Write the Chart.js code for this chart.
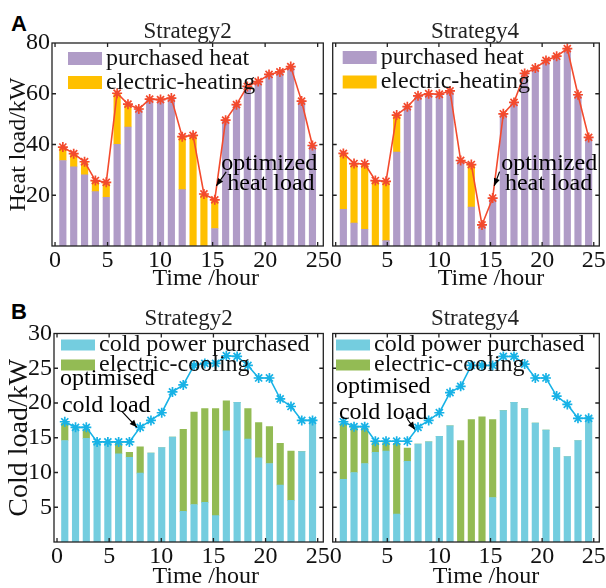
<!DOCTYPE html>
<html>
<head>
<meta charset="utf-8">
<script src="https://cdn.jsdelivr.net/npm/chart.js@4.4.1/dist/chart.umd.min.js"></script>
<style>
body { margin: 0; background: #fff; width: 606px; height: 588px; position: relative; overflow: hidden; }
.panel { position: absolute; }
.tag { position: absolute; font: bold 22px "Liberation Sans", Arial, sans-serif; line-height: 22px; color: #000; }
</style>
</head>
<body>
<div class="tag" style="left:11px;top:13px">A</div>
<div class="tag" style="left:11px;top:301px">B</div>
<div class="panel" style="left:0;top:0;width:330px;height:290px"><canvas id="heat2"></canvas></div>
<div class="panel" style="left:326px;top:0;width:280px;height:290px"><canvas id="heat4"></canvas></div>
<div class="panel" style="left:0;top:290px;width:330px;height:298px"><canvas id="cold2"></canvas></div>
<div class="panel" style="left:326px;top:290px;width:280px;height:298px"><canvas id="cold4"></canvas></div>
<script>
// hours of the day, bars sit on 1..24
const hours = [1, 2, 3, 4, 5, 6, 7, 8, 9, 10, 11, 12, 13, 14, 15, 16, 17, 18, 19, 20, 21, 22, 23, 24];
const timeTicks = [0, 5, 10, 15, 20, 25];
const heatTicks = [20, 40, 60, 80];
const coldTicks = [5, 10, 15, 20, 25, 30];

// A - heat, strategy 2
const heatS2Load = [39.0, 36.4, 33.2, 25.8, 25.1, 60.2, 55.9, 54.0, 57.9, 57.7, 58.3, 43.1, 43.6, 20.5, 18.2, 49.6, 55.7, 62.9, 64.8, 67.6, 68.6, 70.7, 57.1, 39.6];
const heatS2Purchased = [33.7, 31.2, 28.0, 21.4, 19.2, 40.1, 46.9, 54.0, 57.9, 57.7, 58.3, 22.2, 0, 0, 6.9, 49.6, 55.7, 62.9, 64.8, 67.6, 68.6, 70.7, 57.1, 39.6];
const heatS2Electric = [5.3, 5.2, 5.2, 4.4, 5.9, 20.1, 9.0, 0, 0, 0, 0, 20.9, 43.6, 20.5, 11.3, 0, 0, 0, 0, 0, 0, 0, 0, 0];

// A - heat, strategy 4
const heatS4Load = [36.5, 32.5, 32.4, 25.8, 25.5, 51.6, 54.9, 59.2, 60.0, 59.8, 61.1, 33.7, 32.1, 8.3, 18.9, 52.1, 56.6, 68.0, 70.1, 73.1, 74.8, 77.8, 59.6, 42.8];
const heatS4Purchased = [14.5, 9.0, 6.6, 0, 2.1, 37.0, 54.9, 59.2, 60.0, 59.8, 61.1, 33.7, 15.3, 8.3, 18.9, 52.1, 56.6, 68.0, 70.1, 73.1, 74.8, 77.8, 59.6, 42.8];
const heatS4Electric = [22.0, 23.5, 25.8, 25.8, 23.4, 14.6, 0, 0, 0, 0, 0, 0, 16.8, 0, 0, 0, 0, 0, 0, 0, 0, 0, 0, 0];

// B - cold, strategy 2
const coldS2Load = [17.3, 16.5, 16.5, 14.4, 14.4, 14.4, 14.4, 16.5, 17.5, 18.6, 21.6, 22.6, 25.4, 25.7, 25.7, 26.8, 26.7, 25.4, 23.6, 23.6, 20.6, 19.5, 17.5, 17.5];
const coldS2Purchased = [14.6, 16.3, 14.9, 14.2, 14.2, 12.7, 12.2, 9.9, 12.8, 13.6, 15.1, 4.4, 5.4, 5.7, 3.8, 16.0, 20.1, 14.8, 12.1, 11.3, 8.2, 6.0, 13.0, 17.8];
const coldS2Electric = [2.5, 0, 1.3, 0, 0, 1.5, 0.7, 3.8, 0, 0, 0, 11.8, 13.3, 13.5, 15.4, 4.3, 0, 4.4, 5.1, 5.3, 6.0, 7.1, 0, 0];

// B - cold, strategy 4
const coldS4Load = [17.3, 16.6, 16.6, 14.5, 14.5, 14.5, 14.5, 16.5, 17.5, 18.6, 21.5, 22.4, 25.4, 25.4, 25.4, 26.7, 26.7, 25.6, 23.6, 23.6, 21.0, 19.8, 17.8, 17.8];
const coldS4Purchased = [9.0, 10.0, 11.3, 12.9, 13.1, 4.0, 11.6, 14.1, 14.4, 15.2, 16.7, 0, 0, 0, 6.4, 18.9, 20.1, 19.2, 17.1, 16.1, 13.6, 12.3, 14.6, 18.1];
const coldS4Electric = [8.0, 6.5, 5.1, 1.4, 1.2, 10.2, 1.9, 0, 0, 0, 0, 14.6, 17.6, 18.0, 11.2, 0, 0, 0, 0, 0, 0, 0, 0, 0];

const SERIF = "'Liberation Serif', 'Times New Roman', serif";
const pts = arr => hours.map((h, i) => ({ x: h, y: arr[i] }));
// the printed time axis is a little narrower than the bar positions
const timeAt = v => 0.28 + 0.968 * v;

// box round the plot with small inward ticks
const frame = {
  id: 'frame',
  afterDatasetsDraw(chart) {
    const { ctx, chartArea: a, scales } = chart;
    ctx.save();
    ctx.strokeStyle = '#222';
    ctx.lineWidth = 1.3;
    ctx.strokeRect(a.left, a.top, a.right - a.left, a.bottom - a.top);
    ctx.beginPath();
    scales.x.ticks.forEach(t => {
      const x = scales.x.getPixelForValue(t.value);
      if (x <= a.left + 1 || x >= a.right - 1) return;
      ctx.moveTo(x, a.bottom); ctx.lineTo(x, a.bottom - 4);
      ctx.moveTo(x, a.top); ctx.lineTo(x, a.top + 4);
    });
    scales.y.ticks.forEach(t => {
      const y = scales.y.getPixelForValue(t.value);
      if (y <= a.top + 1 || y >= a.bottom - 1) return;
      ctx.moveTo(a.left, y); ctx.lineTo(a.left + 4, y);
      ctx.moveTo(a.right, y); ctx.lineTo(a.right - 4, y);
    });
    ctx.stroke();
    ctx.restore();
  }
};

// "Time /hour" sits right of the plot centre in the original
function timeName(c) {
  return {
    id: 'timeName',
    afterDraw(chart) {
      const { ctx, chartArea: a } = chart;
      ctx.save();
      ctx.font = '24px ' + SERIF;
      ctx.fillStyle = '#111';
      ctx.textAlign = 'center';
      ctx.textBaseline = 'alphabetic';
      ctx.fillText('Time /hour', (a.left + a.right) / 2 + c.xNameShift, a.bottom + c.xNameDrop);
      ctx.restore();
    }
  };
}

function keyBoxes(c) {
  return {
    id: 'keyBoxes',
    afterDatasetsDraw(chart) {
      const { ctx, chartArea: a } = chart;
      ctx.save();
      ctx.font = '24px ' + SERIF;
      ctx.textBaseline = 'middle';
      chart.data.datasets.forEach((d, i) => {
        if (d.type === 'line') return;
        const y = a.top + c.keyY + i * c.keyGap;
        ctx.fillStyle = d.backgroundColor;
        ctx.fillRect(a.left + c.keyX, y - c.boxH / 2, 34, c.boxH);
        ctx.fillStyle = '#111';
        ctx.fillText(d.label, a.left + c.keyX + 38, y);
      });
      ctx.restore();
    }
  };
}

function note(n) {
  return {
    id: 'note',
    afterDatasetsDraw(chart) {
      const { ctx, scales: { x, y } } = chart;
      ctx.save();
      ctx.font = '24px ' + SERIF;
      ctx.fillStyle = '#000';
      ctx.strokeStyle = '#000';
      ctx.lineWidth = 1.2;
      n.lines.forEach(l => ctx.fillText(l[0], x.getPixelForValue(l[1]), y.getPixelForValue(l[2])));
      const ax = x.getPixelForValue(n.from[0]), ay = y.getPixelForValue(n.from[1]);
      const bx = x.getPixelForValue(n.to[0]), by = y.getPixelForValue(n.to[1]);
      const ang = Math.atan2(by - ay, bx - ax);
      ctx.beginPath(); ctx.moveTo(ax, ay); ctx.lineTo(bx, by); ctx.stroke();
      ctx.beginPath();
      ctx.moveTo(bx, by);
      ctx.lineTo(bx - 8 * Math.cos(ang - 0.4), by - 8 * Math.sin(ang - 0.4));
      ctx.lineTo(bx - 8 * Math.cos(ang + 0.4), by - 8 * Math.sin(ang + 0.4));
      ctx.closePath(); ctx.fill();
      ctx.restore();
    }
  };
}

// nudge the title when it is not centred on the plot
function titleShift(dx) {
  return {
    id: 'titleShift',
    afterLayout(chart) {
      chart.titleBlock.left += dx;
      chart.titleBlock.right += dx;
    }
  };
}

function panel(id, c) {
  return new Chart(document.getElementById(id), {
    type: 'bar',
    data: {
      datasets: [
        { label: c.names[0], data: pts(c.bottom), backgroundColor: c.colors[0], borderWidth: 0, barThickness: 6.5, order: 1 },
        { label: c.names[1], data: pts(c.top), backgroundColor: c.colors[1], borderWidth: 0, barThickness: 6.5, order: 1 },
        { type: 'line', label: 'load', data: pts(c.load), stack: 'load', order: 0,
          borderColor: c.lineColor, borderWidth: 1.6, tension: 0, fill: false,
          pointStyle: 'star', pointRadius: 5, pointBorderColor: c.lineColor, pointBorderWidth: 1.7 }
      ]
    },
    options: {
      responsive: true,
      maintainAspectRatio: false,
      animation: false,
      events: [],
      layout: { padding: { left: 0, right: c.padR, top: 0, bottom: 0 } },
      plugins: {
        legend: { display: false },
        tooltip: { enabled: false },
        title: {
          display: true, text: c.title, color: '#222', fullSize: false,
          font: { family: SERIF, size: 23, weight: 'normal', lineHeight: 1 },
          padding: { top: c.titleTop, bottom: c.titleBottom }
        }
      },
      scales: {
        x: {
          type: 'linear', min: 0, max: 25, stacked: true, offset: false,
          grid: { display: false, drawTicks: false, offset: false }, border: { display: false },
          afterBuildTicks: s => { s.ticks = timeTicks.map(v => ({ value: timeAt(v) })); },
          ticks: { color: '#111', font: { family: SERIF, size: 24 }, padding: 0, maxRotation: 0, autoSkip: false,
                   callback: (val, i) => timeTicks[i] },
          afterFit: s => { s.height = c.xH; s.paddingLeft = 0; s.paddingRight = 0; }
        },
        y: {
          type: 'linear', min: 0, max: c.yMax, stacked: true,
          grid: { display: false, drawTicks: false }, border: { display: false },
          afterBuildTicks: s => { s.ticks = c.yTicks.map(v => ({ value: v })); },
          ticks: { display: c.showY, color: '#111', font: { family: SERIF, size: 24 }, padding: 2 },
          title: { display: c.showY, text: c.yTitle, color: '#111', font: { family: SERIF, size: c.yTitleSize, lineHeight: 1.2 }, padding: { top: c.yTitlePad, bottom: 0 } },
          afterFit: s => { s.width = c.yW; s.paddingTop = 0; s.paddingBottom = 0; }
        }
      }
    },
    plugins: [frame, timeName(c), keyBoxes(c), note(c.note), titleShift(c.shift)]
  });
}

const heatNames = ['purchased heat', 'electric-heating'];
const heatColors = ['#b09cc7', '#ffc000'];
const coldNames = ['cold power purchased', 'electric-cooling'];
const coldColors = ['#74cddf', '#93bb54'];

panel('heat2', {
  title: 'Strategy2', shift: 0, names: heatNames, colors: heatColors, lineColor: '#f34a2d',
  bottom: heatS2Purchased, top: heatS2Electric, load: heatS2Load,
  yMax: 80, yTicks: heatTicks, showY: true, yTitle: 'Heat load/kW', yTitleSize: 24, yTitlePad: 4,
  yW: 52, padR: 4, titleTop: 20, titleBottom: 0, xH: 44, xNameShift: 18, xNameDrop: 39,
  keyX: 16, keyY: 15.5, keyGap: 24, boxH: 13,
  note: { lines: [['optimized', 15.6, 30.0], ['heat load', 16.15, 22.2]], from: [16.05, 29.2], to: [15.15, 23.7] }
});

panel('heat4', {
  title: 'Strategy4', shift: 9, names: heatNames, colors: heatColors, lineColor: '#f34a2d',
  bottom: heatS4Purchased, top: heatS4Electric, load: heatS4Load,
  yMax: 80, yTicks: heatTicks, showY: false, yTitle: '', yTitleSize: 24, yTitlePad: 0,
  yW: 4, padR: 2, titleTop: 20, titleBottom: 0, xH: 44, xNameShift: 25, xNameDrop: 39,
  keyX: 10, keyY: 14.5, keyGap: 24.5, boxH: 13,
  note: { lines: [['optimized', 15.8, 30.0], ['heat load', 16.15, 22.2]], from: [15.65, 29.3], to: [15.15, 23.7] }
});

panel('cold2', {
  title: 'Strategy2', shift: 0, names: coldNames, colors: coldColors, lineColor: '#17b2e6',
  bottom: coldS2Purchased, top: coldS2Electric, load: coldS2Load,
  yMax: 30, yTicks: coldTicks, showY: true, yTitle: 'Cold load/kW', yTitleSize: 28, yTitlePad: 3,
  yW: 54, padR: 6, titleTop: 17, titleBottom: 3.5, xH: 46, xNameShift: 17, xNameDrop: 41,
  keyX: 7, keyY: 11.5, keyGap: 20, boxH: 11,
  note: { lines: [['optimised', 0.56, 22.6], ['cold load', 0.74, 18.7]], from: [6.3, 18.8], to: [7.7, 16.5] }
});

panel('cold4', {
  title: 'Strategy4', shift: 9, names: coldNames, colors: coldColors, lineColor: '#17b2e6',
  bottom: coldS4Purchased, top: coldS4Electric, load: coldS4Load,
  yMax: 30, yTicks: coldTicks, showY: false, yTitle: '', yTitleSize: 28, yTitlePad: 0,
  yW: 5.7, padR: 4.3, titleTop: 17, titleBottom: 3.5, xH: 46, xNameShift: 20, xNameDrop: 41,
  keyX: 3.3, keyY: 11.5, keyGap: 20, boxH: 11,
  note: { lines: [['optimised', 0.3, 21.4], ['cold load', 0.58, 17.7]], from: [7.0, 17.7], to: [7.7, 16.2] }
});
</script>
</body>
</html>
